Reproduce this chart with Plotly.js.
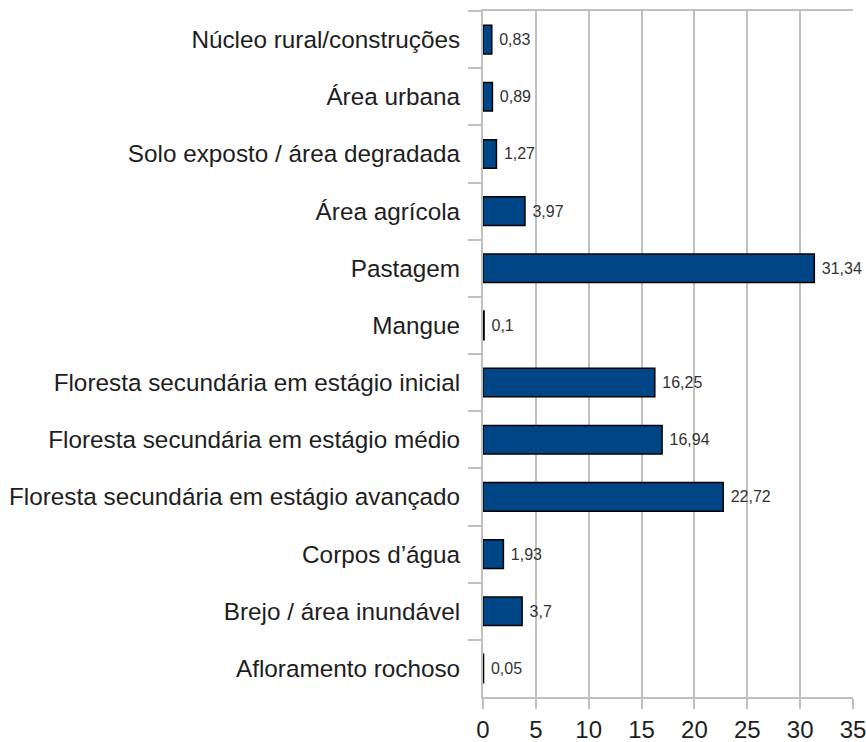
<!DOCTYPE html>
<html>
<head>
<meta charset="utf-8">
<script src="https://cdn.plot.ly/plotly-3.0.1.min.js"></script>
<style>html,body{margin:0;padding:0;background:#fff;}#chart{width:866px;height:742px;}</style>
</head>
<body>
<div id="chart"></div>
<script>
const categories = [
  "Núcleo rural/construções",
  "Área urbana",
  "Solo exposto / área degradada",
  "Área agrícola",
  "Pastagem",
  "Mangue",
  "Floresta secundária em estágio inicial",
  "Floresta secundária em estágio médio",
  "Floresta secundária em estágio avançado",
  "Corpos d’água",
  "Brejo / área inundável",
  "Afloramento rochoso"
];
const values = [0.83, 0.89, 1.27, 3.97, 31.34, 0.1, 16.25, 16.94, 22.72, 1.93, 3.7, 0.05];
const xTicks = [0, 5, 10, 15, 20, 25, 30, 35];

const labels = values.map(v => String(v).replace('.', ','));

const trace = {
  type: 'bar',
  orientation: 'h',
  x: values,
  y: categories,
  text: labels,
  texttemplate: '\u00a0%{text}',
  textposition: 'outside',
  cliponaxis: false,
  textfont: {family: 'Liberation Sans, Arial, sans-serif', size: 16, color: '#333333'},
  marker: {color: '#004586', line: {color: '#000000', width: 1.5}},
  hoverinfo: 'none'
};

const layout = {
  width: 866, height: 742,
  margin: {l: 483, r: 13, t: 11, b: 45},
  paper_bgcolor: '#ffffff',
  plot_bgcolor: '#ffffff',
  bargap: 0.5,
  showlegend: false,
  font: {family: 'Liberation Sans, Arial, sans-serif', color: '#1e1e1e'},
  xaxis: {
    range: [0, 35],
    tickvals: xTicks,
    ticktext: xTicks.map(String),
    ticklabeloverflow: 'allow',
    showgrid: true, gridcolor: '#c0c0c0', gridwidth: 2,
    showline: true, linecolor: '#c0c0c0', linewidth: 2, mirror: true,
    ticks: 'outside', ticklen: 10, tickwidth: 2, tickcolor: '#c0c0c0',
    tickfont: {size: 24, color: '#1e1e1e'},
    zeroline: false
  },
  yaxis: {
    type: 'category',
    autorange: 'reversed',
    showgrid: false,
    showline: true, linecolor: '#c0c0c0', linewidth: 2,
    ticks: 'outside', tickson: 'boundaries', ticklen: 13, tickwidth: 2, tickcolor: '#c0c0c0',
    ticklabelstandoff: 16,
    tickfont: {size: 24.3, color: '#1e1e1e'},
    zeroline: false
  }
};

Plotly.newPlot('chart', [trace], layout, {displayModeBar: false, staticPlot: true});
</script>
</body>
</html>
